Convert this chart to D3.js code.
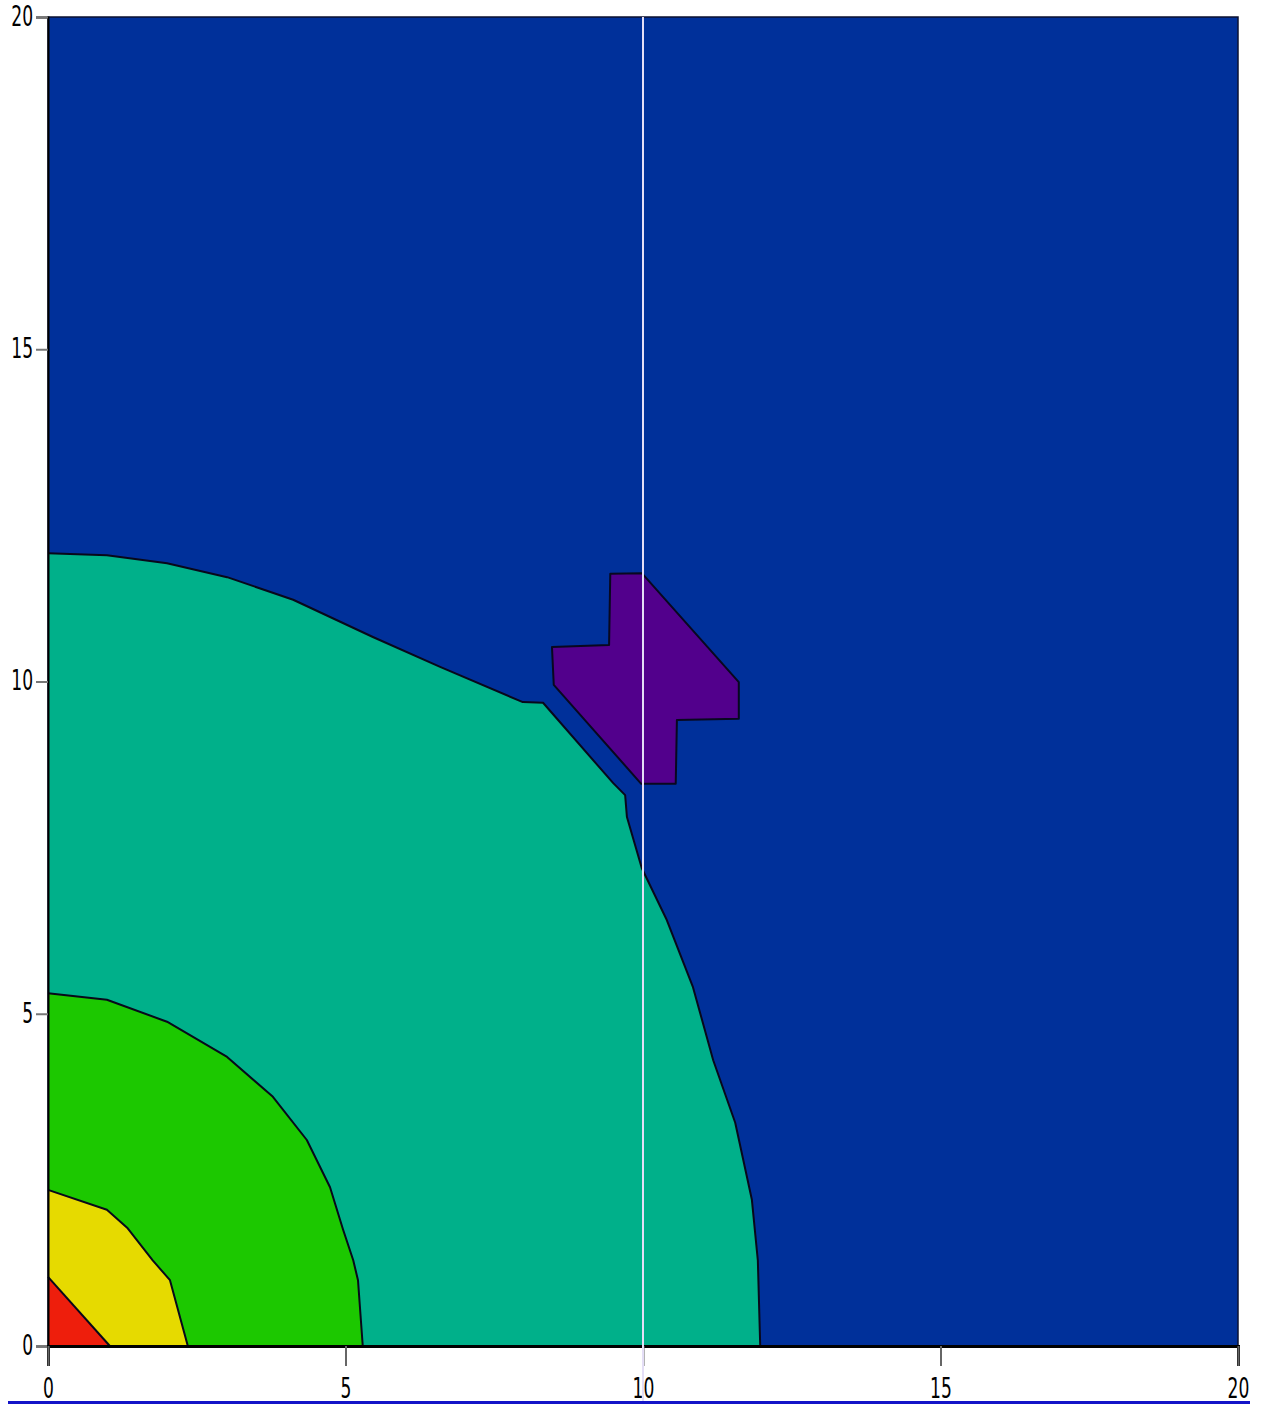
<!DOCTYPE html>
<html>
<head>
<meta charset="utf-8">
<script src="https://cdn.jsdelivr.net/npm/d3@7"></script>
<style>
  html, body { margin: 0; padding: 0; background: #ffffff; }
  svg { display: block; }
  .tick text { font-family: "DejaVu Sans Condensed", "DejaVu Sans", "Liberation Sans", sans-serif; }
</style>
</head>
<body>
<svg id="chart" width="1264" height="1405"></svg>
<script>
// Contour bands of a field over the quarter plane [0,20] x [0,20].
// Each band boundary is listed as [x, y] points running from the y axis to the x axis.
const redEdge = [[0, 1.04], [1.04, 0]];
const yellowEdge = [[0, 2.35], [0.99, 2.05], [1.33, 1.78], [1.76, 1.29], [2.05, 0.99], [2.35, 0]];
const greenEdge = [[0, 5.31], [0.99, 5.21], [2.00, 4.88], [3.01, 4.35], [3.78, 3.75], [4.35, 3.10],
  [4.74, 2.39], [4.96, 1.75], [5.13, 1.29], [5.21, 0.99], [5.29, 0]];
const tealEdge = [[0, 11.93], [0.99, 11.90], [2.00, 11.78], [3.01, 11.57], [4.12, 11.23], [5.46, 10.67],
  [6.59, 10.22], [7.98, 9.69], [8.32, 9.68], [9.50, 8.47], [9.70, 8.29], [9.73, 7.96], [9.98, 7.19],
  [10.40, 6.41], [10.84, 5.40], [11.18, 4.30], [11.55, 3.36], [11.83, 2.20], [11.93, 1.29], [11.97, 0]];
// Closed island of the lowest level
const purpleIsland = [[9.45, 11.62], [9.98, 11.63], [11.61, 9.99], [11.61, 9.44], [10.57, 9.42],
  [10.55, 8.46], [9.97, 8.46], [8.50, 9.95], [8.47, 10.52], [9.43, 10.55]];

const bandNames = ["teal", "green", "yellow", "red"];
const bandColors = ["#00B08A", "#1CC800", "#E6DA00", "#EE1E0C"];
const backgroundColor = "#00309A";
const islandColor = "#52008C";

const xTicks = [0, 5, 10, 15, 20];
const yTicks = [0, 5, 10, 15, 20];
const markerX = 10;

const svg = d3.select("#chart");
const plotLeft = 48, plotRight = 1238, plotTop = 17, plotBottom = 1346;

const x = d3.scaleLinear().domain([0, 20]).range([plotLeft, plotRight]);
const y = d3.scaleLinear().domain([0, 20]).range([plotBottom, plotTop]);

// Plot background (highest level)
svg.append("rect")
  .attr("x", plotLeft).attr("y", plotTop)
  .attr("width", plotRight - plotLeft).attr("height", plotBottom - plotTop)
  .attr("fill", backgroundColor);

const line = d3.line().x(d => x(d[0])).y(d => y(d[1]));

// Nested bands, drawn outermost first, each closed through the origin corner
const edges = [tealEdge, greenEdge, yellowEdge, redEdge];
const bands = svg.append("g").attr("class", "bands");
edges.forEach((edge, i) => {
  const poly = [[0, 0]].concat(edge);
  bands.append("path")
    .attr("class", bandNames[i])
    .attr("d", line(poly) + "Z")
    .attr("fill", bandColors[i])
    .attr("stroke", "none");
  bands.append("path")
    .attr("d", line(edge))
    .attr("fill", "none")
    .attr("stroke", "#08081a")
    .attr("stroke-width", 2)
    .attr("stroke-linejoin", "round");
});

// Island
svg.append("path")
  .attr("d", line(purpleIsland) + "Z")
  .attr("fill", islandColor)
  .attr("stroke", "#08081f")
  .attr("stroke-width", 2)
  .attr("stroke-linejoin", "round");

// Plot frame
svg.append("rect")
  .attr("x", plotLeft).attr("y", plotTop)
  .attr("width", plotRight - plotLeft).attr("height", plotBottom - plotTop)
  .attr("fill", "none")
  .attr("stroke", "#0b1030")
  .attr("stroke-width", 1.5);

// Condensed tick labels: squeeze glyphs horizontally around each tick origin
function condense(sel) {
  sel.attr("font-size", 28).attr("fill", "#000")
    .attr("transform", "scale(0.68,1)");
}

// Y axis
const yAxis = svg.append("g")
  .attr("transform", `translate(${plotLeft},0)`)
  .call(d3.axisLeft(y).tickValues(yTicks).tickFormat(d3.format("d")).tickSize(12).tickPadding(10));
yAxis.select(".domain").attr("stroke", "#000").attr("stroke-width", 2);
yAxis.selectAll(".tick line").attr("stroke", "#777").attr("stroke-width", 2);
yAxis.selectAll(".tick text").call(condense).attr("dy", "0.3em");

// X axis
const xAxis = svg.append("g")
  .attr("transform", `translate(0,${plotBottom})`)
  .call(d3.axisBottom(x).tickValues(xTicks).tickFormat(d3.format("d")).tickSize(20).tickPadding(12));
xAxis.select(".domain").attr("stroke", "#000").attr("stroke-width", 3);
xAxis.selectAll(".tick line").attr("stroke", "#666").attr("stroke-width", 2);
xAxis.selectAll(".tick text").call(condense);

// Vertical marker at x = 10
svg.append("line")
  .attr("x1", x(markerX)).attr("x2", x(markerX))
  .attr("y1", plotTop).attr("y2", 1401)
  .attr("stroke", "#e4def6")
  .attr("stroke-width", 2);

// Bottom rule
svg.append("line")
  .attr("x1", 8).attr("x2", 1250)
  .attr("y1", 1402.5).attr("y2", 1402.5)
  .attr("stroke", "#1414c8")
  .attr("stroke-width", 3);
</script>
</body>
</html>
